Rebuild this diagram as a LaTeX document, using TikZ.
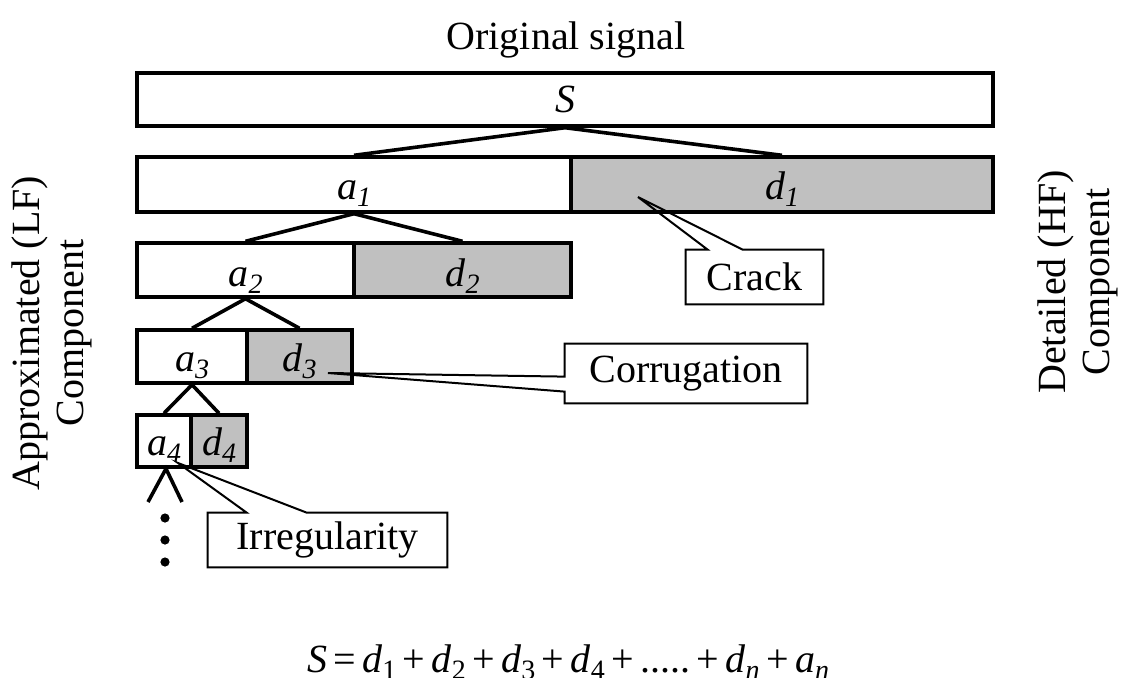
\documentclass[tikz,border=0pt]{standalone}
\usepackage{fontspec}
\setmainfont{Liberation Serif}
\usetikzlibrary{calc}
\newcommand\lowsub[1]{\raisebox{-0.18em}{\fontsize{14}{14}\selectfont #1}}
\newcommand\fsp{\hspace{0.16em}}
\definecolor{boxgray}{RGB}{192,192,192}
\begin{document}
\begin{tikzpicture}[x=0.5pt,y=-0.5pt,
  lbl/.style={font=\fontsize{20}{22}\selectfont},
  cell/.style={draw, line width=1.7pt, inner sep=0pt, text depth=0pt, font=\fontsize{20}{24}\selectfont\itshape},
  lo/.style={cell, fill=white},
  hi/.style={cell, fill=boxgray},
  tree/.style={line width=1.8pt},
  callout/.style={draw, line width=1pt, line join=miter},
  ctext/.style={inner sep=0pt, font=\fontsize{20}{24}\selectfont},
  dot/.style={circle, fill=black, inner sep=0pt, minimum size=4.6pt},
]
\useasboundingbox (0,0) rectangle (1125,677);
\clip (0,0) rectangle (1125,677);

% title
\node[lbl, anchor=base] (title) at (566,49) {Original signal};

% decomposition cells
\node[lo, text height=13pt, minimum width=428pt, minimum height=26.5pt] (S) at (565,99.5) {S};
\node[lo, text height=15pt, minimum width=217pt, minimum height=27.5pt] (a1) at (354,184.5) {a\lowsub{1}};
\node[hi, text height=15pt, minimum width=211pt, minimum height=27.5pt] (d1) at (782,184.5) {d\lowsub{1}};
\node[lo, text height=16pt, minimum width=108.5pt, minimum height=27pt] (a2) at (245.5,270) {a\lowsub{2}};
\node[hi, text height=16pt, minimum width=108.5pt, minimum height=27pt] (d2) at (462.5,270) {d\lowsub{2}};
\node[lo, text height=15pt, minimum width=55pt, minimum height=26.5pt] (a3) at (192,356.5) {a\lowsub{3}};
\node[hi, text height=15pt, minimum width=52.5pt, minimum height=26.5pt] (d3) at (299.5,356.5) {d\lowsub{3}};
\node[lo, text height=14pt, minimum width=27pt, minimum height=26pt] (a4) at (164,441) {a\lowsub{4}};
\node[hi, text height=14pt, minimum width=28pt, minimum height=26pt] (d4) at (219,441) {d\lowsub{4}};

% tree connectors
\draw[tree] (a1.north) -- (S.south) -- (d1.north);
\draw[tree] (a2.north) -- (a1.south) -- (d2.north);
\draw[tree] (a3.north) -- (a2.south) -- (d3.north);
\draw[tree] (a4.north) -- (a3.south) -- (d4.north);
\coordinate (l1) at (148,502);
\coordinate (l2) at (182,502);
\draw[tree] (l1) -- ($(a4.south)+(2,0)$) -- (l2);

% continuation dots
\node[dot] (dot1) at (165,518) {};
\node[dot] (dot2) at (165,540) {};
\node[dot] (dot3) at (165,562) {};

% callouts
\node[ctext, minimum width=68.5pt, minimum height=27pt] (crack) at (754.5,277) {Crack};
\coordinate (cracktip) at (638,197);
\draw[callout] (crack.north west) -- ($(crack.north west)+(22,0)$) -- (cracktip)
  -- ($(crack.north west)+(57,0)$) -- (crack.north east) -- (crack.south east)
  -- (crack.south west) -- cycle;

\node[ctext, minimum width=121pt, minimum height=29.5pt] (corr) at (686,373.5) {Corrugation};
\coordinate (corrtip) at (328,373);
\draw[callout] (corr.north west) -- (corr.north east) -- (corr.south east)
  -- (corr.south west) -- ($(corr.north west)+(0,48)$) -- (corrtip)
  -- ($(corr.north west)+(0,33)$) -- cycle;

\node[ctext, minimum width=119.5pt, minimum height=27pt] (irr) at (327.5,540) {Irregularity};
\coordinate (irrtip) at (178,463);
\draw[callout] (irr.north west) -- ($(irr.north west)+(39,0)$) -- (irrtip)
  -- ($(irr.north west)+(99,0)$) -- (irr.north east) -- (irr.south east)
  -- (irr.south west) -- cycle;

% side labels
\node[lbl, rotate=90, align=center] (lf) at (52,333) {Approximated (LF)\\Component};
\node[lbl, rotate=90, align=center] (hf) at (1078,282) {Detailed (HF)\\Component};

% formula
\node[lbl, anchor=base] (formula) at (568,672) {\textit{S}\fsp=\fsp\textit{d}\lowsub{1}\fsp+\fsp\textit{d}\lowsub{2}\fsp+\fsp\textit{d}\lowsub{3}\fsp+\fsp\textit{d}\lowsub{4}\fsp+\fsp.....\fsp+\fsp\textit{d}\lowsub{\textit{n}}\fsp+\fsp\textit{a}\lowsub{\textit{n}}};
\end{tikzpicture}
\end{document}
